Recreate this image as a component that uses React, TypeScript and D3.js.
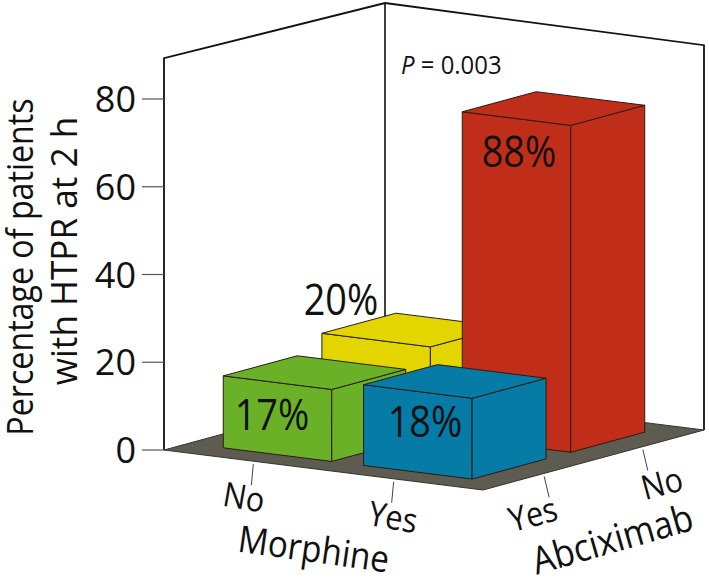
import React from "react";
import * as d3 from "d3";

const morphine = ["No", "Yes"];
const abciximab = ["Yes", "No"];
const yTicks = [0, 20, 40, 60, 80];
const barMorphine = ["No", "Yes", "No", "Yes"];
const barAbciximab = ["No", "No", "Yes", "Yes"];
const barLabels = ["20%", "88%", "17%", "18%"];
const barAxisHeights = [20, 74.5, 16.4, 18.4];
const barFills = ["#E2D500", "#C02E19", "#6BB127", "#057BA6"];
const barOrder = barLabels.map((label, i) => ({
  m: barMorphine[i],
  a: barAbciximab[i],
  label,
  h: barAxisHeights[i],
  fill: barFills[i],
}));
const labelSpots: Record<string, [number, number]> = {
  "20%": [341, 315],
  "88%": [519, 167],
  "17%": [272, 430],
  "18%": [425, 437],
};

const FONT = "'Open Sans', 'Noto Sans', sans-serif";
const origin: [number, number] = [164, 450];
const uVec: [number, number] = [319, 40];
const vVec: [number, number] = [221, -60];
const y = d3.scaleLinear().domain([0, 80]).range([0, 351]);
const uScale = d3.scaleBand<string>().domain(morphine).range([0, 1]).paddingInner(0.227).paddingOuter(0.25);
const vScale = d3.scaleBand<string>().domain(abciximab).range([0, 1]).paddingInner(0.25).paddingOuter(0.245);

const P = (u: number, v: number, h = 0): [number, number] => [
  origin[0] + u * uVec[0] + v * vVec[0],
  origin[1] + u * uVec[1] + v * vVec[1] - y(h),
];
const poly = (pts: [number, number][]) => (d3.line()(pts) ?? "") + "Z";
const open = (pts: [number, number][]) => d3.line()(pts) ?? "";

function Bar({ b }: { b: (typeof barOrder)[number] }) {
  const u0 = uScale(b.m)!, u1 = u0 + uScale.bandwidth();
  const v0 = vScale(b.a)!, v1 = v0 + vScale.bandwidth();
  const s = { stroke: "#2a1c10", strokeWidth: 1, strokeLinejoin: "round" as const };
  return (
    <g>
      <path d={poly([P(u0, v0, 0), P(u1, v0, 0), P(u1, v0, b.h), P(u0, v0, b.h)])} fill={b.fill} {...s} />
      <path d={poly([P(u1, v0, 0), P(u1, v1, 0), P(u1, v1, b.h), P(u1, v0, b.h)])} fill={b.fill} {...s} />
      <path d={poly([P(u0, v0, b.h), P(u1, v0, b.h), P(u1, v1, b.h), P(u0, v1, b.h)])} fill={b.fill} {...s} />
    </g>
  );
}

const axisText = (txt: string, x: number, yy: number, rot: number, size: number, k = 0.9) => (
  <text
    key={txt + x}
    transform={`translate(${x},${yy}) rotate(${rot}) scale(${k},1)`}
    textAnchor="middle"
    fontSize={size}
    fontFamily={FONT}
    fill="#111"
  >
    {txt}
  </text>
);

export default function App() {
  const top: [number, number, number] = [89.3, 88.2, 87.7];
  return (
    <svg width={709} height={580} style={{ position: "absolute", left: 0, top: 0, background: "#fff" }}>
      <path
        d={open([P(0, 0, 0), P(0, 0, top[0]), P(0, 1, top[1]), P(1, 1, top[2]), P(1, 1, 0)])}
        fill="none"
        stroke="#111"
        strokeWidth={1.8}
      />
      <path d={open([P(0, 1, 0), P(0, 1, top[1])])} fill="none" stroke="#111" strokeWidth={1.6} />
      <path d={poly([P(0, 0), P(1, 0), P(1, 1), P(0, 1)])} fill="#5E5B50" stroke="#333" strokeWidth={1} />
      {yTicks.map((t) => {
        const [x0, y0] = P(0, 0, t);
        return (
          <g key={t}>
            <line x1={x0 - 22} x2={x0} y1={y0} y2={y0} stroke="#555" strokeWidth={1.2} />
            <text
              transform={`translate(${x0 - 28},${y0 + 13})`}
              textAnchor="end"
              fontSize={36}
              fontFamily={FONT}
              fill="#111"
            >
              {t}
            </text>
          </g>
        );
      })}
      {morphine.map((m) => {
        const [x0, y0] = P(uScale(m)! + uScale.bandwidth() / 2, 0);
        return <line key={m} x1={x0} y1={y0 + 3} x2={x0 - 2} y2={y0 + 24} stroke="#444" strokeWidth={1} />;
      })}
      {abciximab.map((a) => {
        const [x0, y0] = P(1, vScale(a)! + vScale.bandwidth() / 2);
        return <line key={a} x1={x0} y1={y0 + 3} x2={x0 + 5} y2={y0 + 24} stroke="#444" strokeWidth={1} />;
      })}
      {barOrder.map((b) => (
        <Bar key={b.label} b={b} />
      ))}
      {barOrder.map((b) => (
        <text
          key={b.label}
          transform={`translate(${labelSpots[b.label][0]},${labelSpots[b.label][1]}) scale(0.88,1)`}
          textAnchor="middle"
          fontSize={43}
          fontFamily={FONT}
          fill="#111"
        >
          {b.label}
        </text>
      ))}
      <text fontSize={26} fontFamily={FONT} fill="#111" transform="translate(401,74) scale(0.92,1)">
        <tspan fontStyle="italic">P</tspan> = 0.003
      </text>
      {axisText("No", 242, 509, 10, 34)}
      {axisText("Yes", 391, 529, 10, 34)}
      {axisText("Yes", 536, 526, -15, 34)}
      {axisText("No", 665, 495, -15, 34)}
      {axisText("Morphine", 312, 562, 8, 37)}
      {axisText("Abciximab", 616, 552, -16, 38)}
      <text
        transform="translate(33,267) rotate(-90) scale(0.87,1)"
        textAnchor="middle"
        fontSize={37}
        fontFamily={FONT}
        fill="#111"
      >
        Percentage of patients
      </text>
      <text
        transform="translate(77,251) rotate(-90) scale(0.95,1)"
        textAnchor="middle"
        fontSize={37}
        fontFamily={FONT}
        fill="#111"
      >
        with HTPR at 2 h
      </text>
    </svg>
  );
}
